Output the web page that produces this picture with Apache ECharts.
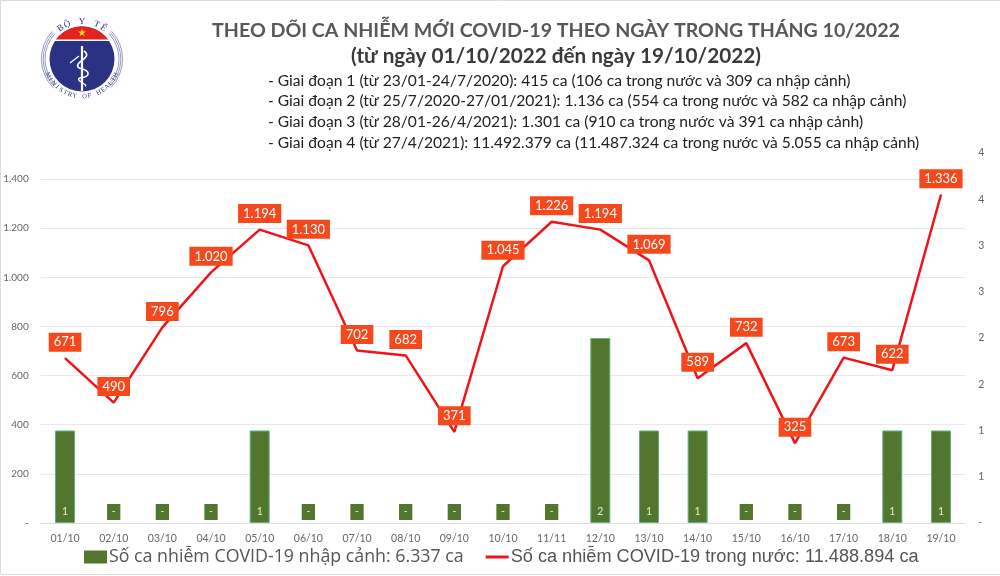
<!DOCTYPE html>
<html><head><meta charset="utf-8">
<style>html,body{margin:0;padding:0;background:#fff}#c{width:1000px;height:576px}</style>
<script src="https://cdn.jsdelivr.net/npm/echarts@6/dist/echarts.min.js"></script></head>
<body><div id="c"></div>
<script>
const categories = ['01/10','02/10','03/10','04/10','05/10','06/10','07/10','08/10','09/10','10/10','11/11','12/10','13/10','14/10','15/10','16/10','17/10','18/10','19/10'];
const domestic = [671,490,796,1020,1194,1130,702,682,371,1045,1226,1194,1069,589,732,325,673,622,1336];
const imported = [1,0,0,0,1,0,0,0,0,0,0,2,1,1,0,0,0,1,1];
const titleText = 'THEO DÕI CA NHIỄM MỚI COVID-19 THEO NGÀY TRONG THÁNG 10/2022';
const subtitleText = '(từ ngày 01/10/2022 đến ngày 19/10/2022)';
const notes = [
 '- Giai đoạn 1 (từ 23/01-24/7/2020): 415 ca (106 ca trong nước và 309 ca nhập cảnh)',
 '- Giai đoạn 2 (từ 25/7/2020-27/01/2021): 1.136 ca (554 ca trong nước và 582 ca nhập cảnh)',
 '- Giai đoạn 3 (từ 28/01-26/4/2021): 1.301 ca (910 ca trong nước và 391 ca nhập cảnh)',
 '- Giai đoạn 4 (từ 27/4/2021): 11.492.379 ca (11.487.324 ca trong nước và 5.055 ca nhập cảnh)'
];
const barName = 'Số ca nhiễm COVID-19 nhập cảnh: 6.337 ca';
const lineName = 'Số ca nhiễm COVID-19 trong nước: 11.488.894 ca';

const dots = v => String(v).replace(/\B(?=(\d{3})+(?!\d))/g,'.');
const FONT = 'Lato, "Open Sans", sans-serif';

// ---- logo (decoration) ----
const LX = 82, LY = 59;
const logo = [];
[37,38.8,40.6].forEach(r=>{
  logo.push({type:'arc',shape:{cx:LX,cy:LY,r:r,startAngle:-0.75,endAngle:0.78},style:{stroke:'#8a8fb5',fill:null,lineWidth:0.9}});
  logo.push({type:'arc',shape:{cx:LX,cy:LY,r:r,startAngle:Math.PI-0.78,endAngle:Math.PI+0.75},style:{stroke:'#8a8fb5',fill:null,lineWidth:0.9}});
});
logo.push({type:'circle',shape:{cx:LX,cy:LY,r:32.5},style:{fill:'#2b3284'}});
const capDy = 40 - LY;
const capA = Math.asin(-capDy/32.5);
logo.push({type:'polygon',shape:{points:(()=>{const p=[];for(let i=0;i<=30;i++){const a=Math.PI+capA+(Math.PI-2*capA)*i/30;p.push([LX+32.5*Math.cos(a),LY+32.5*Math.sin(a)]);}return p;})()},style:{fill:'#e2231f'}});
logo.push({type:'rect',shape:{x:LX-28,y:39.5,width:56,height:1.6},style:{fill:'#fff'}});
logo.push({type:'text',style:{x:LX,y:33,text:'★',fill:'#f6e11a',font:'10px "DejaVu Sans"',align:'center',verticalAlign:'middle'}});
logo.push({type:'line',shape:{x1:LX,y1:46,x2:LX,y2:91},style:{stroke:'#fff',lineWidth:2.2}});
logo.push({type:'bezierCurve',shape:{x1:LX+2,y1:51,cpx1:LX+12,cpy1:58,cpx2:LX-10,cpy2:62,x2:LX-3,y2:68},style:{stroke:'#fff',fill:null,lineWidth:1.6}});
logo.push({type:'bezierCurve',shape:{x1:LX-3,y1:68,cpx1:LX+10,cpy1:71,cpx2:LX+8,cpy2:77,x2:LX-2,y2:78},style:{stroke:'#fff',fill:null,lineWidth:1.6}});
logo.push({type:'bezierCurve',shape:{x1:LX-2,y1:78,cpx1:LX-8,cpy1:80,cpx2:LX+7,cpy2:85,x2:LX+3,y2:86},style:{stroke:'#fff',fill:null,lineWidth:1.4}});
logo.push({type:'line',shape:{x1:LX-12,y1:63,x2:LX-3,y2:56},style:{stroke:'#fff',lineWidth:1.3}});
function arcText(txt, r, midDeg, stepDeg, size, top){
  [...txt].forEach((ch,i)=>{
    const d = midDeg + (i-(txt.length-1)/2)*stepDeg*(top?1:-1);
    const a = d*Math.PI/180;
    logo.push({type:'text',x:LX+r*Math.cos(a),y:LY+r*Math.sin(a),rotation:top?-(d+90)*Math.PI/180:-(d-90)*Math.PI/180,
      style:{text:ch,fill:'#2b3284',font:size+'px "Liberation Serif"',align:'center',verticalAlign:'middle'}});
  });
}
arcText('BỘ Y TẾ',37.5,-90,11.5,9,true);
arcText('MINISTRY OF HEALTH',37.5,90,7.6,6.6,false);

const noteY = [81,101,122,143];
const graphic = [
  {type:'rect',silent:true,z:-1,shape:{x:0.5,y:0.5,width:1100,height:574},style:{fill:null,stroke:'#dcdcdc',lineWidth:1}},
  ...logo,
  ...notes.map((t,i)=>({type:'text',style:{x:268,y:noteY[i],text:t,fill:'#222',font:'15.6px '+FONT,verticalAlign:'middle'}}))
];

const chart = echarts.init(document.getElementById('c'),null,{renderer:'canvas'});
const left=40.7, right=34.7, bottom=53;
chart.setOption({
  animation:false,
  backgroundColor:'#fff',
  title:[
    {text:titleText,left:551,top:16,textAlign:'center',textStyle:{fontFamily:FONT,fontSize:19.6,fontWeight:'bold',color:'#58585a'}},
    {text:subtitleText,left:551,top:41,textAlign:'center',textStyle:{fontFamily:FONT,fontSize:20.7,fontWeight:'bold',color:'#3a3a3c'}}
  ],
  graphic:{elements:graphic},
  legend:{
    left:84,top:548,padding:0,itemGap:22,itemWidth:23,itemHeight:13,
    data:[
      {name:barName,icon:'rect',itemStyle:{color:'#53762f',borderWidth:0},textStyle:{fontFamily:'"Open Sans",sans-serif',fontSize:17.8,color:'#555',padding:[0,0,0,-3]}},
      {name:lineName,icon:'path://M0,0H23V3H0Z',itemStyle:{color:'#f0141a'},textStyle:{fontFamily:'"Liberation Sans",sans-serif',fontSize:18.15,color:'#555',padding:[0,0,0,-3]}}
    ]
  },
  grid:[
    {left,right,top:179,bottom:bottom},
    {left,right,top:153,bottom:bottom}
  ],
  xAxis:[
    {type:'category',gridIndex:0,data:categories,axisTick:{show:false},axisLine:{lineStyle:{color:'#dcdce4'}},
     axisLabel:{color:'#666',fontFamily:FONT,fontSize:10.5,margin:10,interval:0}},
    {type:'category',gridIndex:1,data:categories,show:false}
  ],
  yAxis:[
    {type:'value',gridIndex:0,min:0,max:1400,interval:200,axisLine:{show:false},axisTick:{show:false},
     splitLine:{lineStyle:{color:'#e7e7ee',width:1}},
     axisLabel:{color:'#666',fontFamily:FONT,fontSize:10,margin:12,formatter:v=>v===0?'-':dots(v)}},
    {type:'value',gridIndex:1,position:'right',min:0,max:4,interval:0.5,axisLine:{show:false},axisTick:{show:false},splitLine:{show:false},
     axisLabel:{color:'#666',fontFamily:FONT,fontSize:10.5,margin:13,formatter:v=>v===0?'-':String(Math.ceil(v))}}
  ],
  series:[
    {name:barName,type:'bar',xAxisIndex:1,yAxisIndex:1,barWidth:20,z:2,
     data:imported.map(v=>v===0?{value:v,itemStyle:{borderWidth:0,color:'transparent'}}:v),
     itemStyle:{color:'#53762f',borderColor:'#5fb37c',borderWidth:1},
     label:{show:true,position:'insideBottom',distance:3,color:'#e4ead9',fontFamily:FONT,fontSize:10.5,lineHeight:10,
       backgroundColor:'#53762f',padding:[3,2,3,2],formatter:p=>p.value===0?' - ':String(p.value)}},
    {name:lineName,type:'line',xAxisIndex:0,yAxisIndex:0,data:domestic,showSymbol:true,showAllSymbol:true,symbol:'circle',symbolSize:1,z:3,
     lineStyle:{color:'#f0141a',width:2.5},itemStyle:{color:'#f0141a'},
     label:{show:true,position:'top',distance:6,color:'#fff',backgroundColor:'#f5481c',fontFamily:FONT,fontSize:13,
       padding:[3,5,3,5],formatter:p=>dots(p.value)},
     labelLayout:{hideOverlap:false}}
  ]
});
</script></body></html>
